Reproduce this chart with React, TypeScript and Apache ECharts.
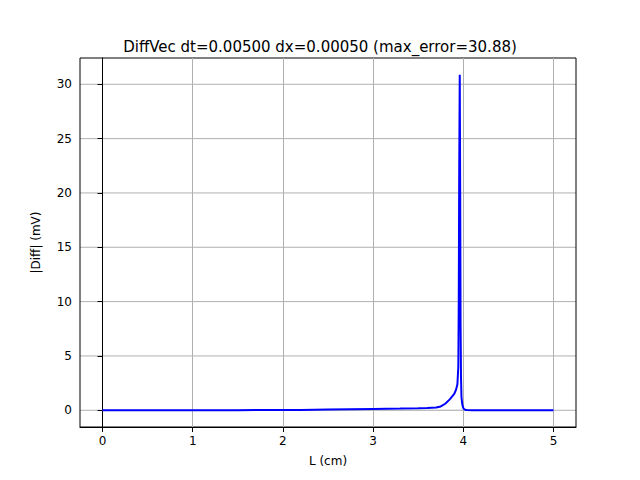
import React, { useEffect, useRef } from "react";
import * as echarts from "echarts";

const xs = [0, 0.5, 1, 1.5, 2, 2.2, 2.5, 3, 3.3, 3.5, 3.6, 3.7, 3.75, 3.8, 3.85, 3.9, 3.92, 3.935, 3.945, 3.95, 3.955, 3.961, 3.966, 3.97, 3.975, 3.98, 3.99, 4.0, 4.01, 4.02, 4.04, 4.1, 4.5, 5];
const ys = [0, 0, 0, 0.01, 0.02, 0.03, 0.06, 0.12, 0.16, 0.19, 0.21, 0.25, 0.35, 0.6, 1.0, 1.5, 1.9, 2.4, 4, 10, 22, 30.88, 20, 8, 3, 1.2, 0.5, 0.2, 0.1, 0.05, 0.02, 0.01, 0, 0];

export default function App() {
  const ref = useRef<HTMLDivElement>(null);
  useEffect(() => {
    document.body.style.margin = "0";
    const c = echarts.init(ref.current!, null, { renderer: "svg" });
    const ax = { color: "#000", fontSize: 12, fontFamily: "DejaVu Sans" };
    c.setOption({
      animation: false,
      title: { text: "DiffVec dt=0.00500 dx=0.00050 (max_error=30.88)", left: "center", top: 34, textStyle: { fontSize: 15, fontWeight: "normal", color: "#000", fontFamily: "DejaVu Sans" } },
      grid: { left: 80, right: 64, top: 58, bottom: 53, show: true, borderColor: "#000", borderWidth: 1, backgroundColor: "transparent" },
      xAxis: { type: "value", min: -0.25, max: 5.25, interval: 1, name: "L (cm)", nameLocation: "middle", nameGap: 28, nameTextStyle: ax,
        axisLabel: { ...ax, customValues: [0, 1, 2, 3, 4, 5] }, axisTick: { customValues: [0, 1, 2, 3, 4, 5], lineStyle: { color: "#000" } },
        axisLine: { onZero: false, lineStyle: { color: "#000" } },
        splitLine: { show: true, lineStyle: { color: "#b0b0b0" } } },
      yAxis: { type: "value", min: -1.54, max: 32.42, name: "|Diff| (mV)", nameLocation: "middle", nameGap: 38, nameTextStyle: ax,
        axisLabel: { ...ax, customValues: [0, 5, 10, 15, 20, 25, 30] }, axisTick: { show: true, customValues: [0, 5, 10, 15, 20, 25, 30], lineStyle: { color: "#000" } },
        axisLine: { show: true, lineStyle: { color: "#000" } },
        splitLine: { show: false } },
      series: [
        { type: "line", data: xs.map((x, i) => [x, ys[i]]), showSymbol: false, lineStyle: { color: "#0000ff", width: 2 } },
        { type: "line", data: [[0, 0], [5, 0]], showSymbol: false, lineStyle: { color: "#b0b0b0", width: 0.8, type: "dotted" }, z: 1 },
      ],
      graphic: [0, 5, 10, 15, 20, 25, 30].map((v) => ({ type: "line", silent: true, z: -1,
        shape: { x1: 80, x2: 576, y1: 427 - (v + 1.54) * (369 / 33.96), y2: 427 - (v + 1.54) * (369 / 33.96) }, style: { stroke: "#b0b0b0", lineWidth: 1 } })),
    });
    return () => c.dispose();
  }, []);
  return <div ref={ref} style={{ width: 640, height: 480 }} />;
}
